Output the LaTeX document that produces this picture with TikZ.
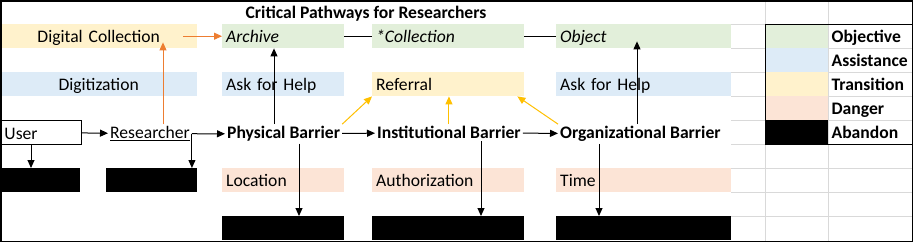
\documentclass[tikz,border=0pt]{standalone}
\usepackage{fontspec}
\setmainfont{Carlito}
\usepackage{xcolor}
\usepackage{tikz}
\usetikzlibrary{shapes,arrows.meta,positioning}

\definecolor{objgreen}{HTML}{E2EFDA}
\definecolor{assistblue}{HTML}{DDEBF7}
\definecolor{transyellow}{HTML}{FFF2CC}
\definecolor{dangerpeach}{HTML}{FCE4D6}
\definecolor{accentorange}{HTML}{ED7D31}
\definecolor{accentgold}{HTML}{FFC000}
\definecolor{gridgray}{HTML}{D9D9D9}

\newcommand{\sheetfont}{\fontsize{17.6}{21}\selectfont}

\begin{document}
\begin{tikzpicture}[
    x=1pt, y=-1pt,
    font=\sheetfont,
    cell/.style={rectangle, anchor=north west, minimum height=24pt, inner xsep=4pt, inner ysep=0pt, text height=15pt, text depth=1.6pt, align=left, font=\sheetfont},
    objective/.style={cell, fill=objgreen},
    assistance/.style={cell, fill=assistblue},
    transition/.style={cell, fill=transyellow},
    danger/.style={cell, fill=dangerpeach},
    abandon/.style={rectangle, anchor=north west, fill=black, minimum height=24pt, inner sep=0pt},
    barrier/.style={anchor=base west, inner sep=2pt, font=\sheetfont\bfseries},
    legend/.style={inner sep=0pt, text height=15pt, text depth=1.6pt, font=\sheetfont\bfseries},
    line/.style={draw, -{Triangle[length=8pt, width=7pt]}, line width=1pt},
    link/.style={draw, line width=1pt},
    orange line/.style={line, accentorange},
    gold line/.style={line, accentgold}
]
    \fill [white] (0,0) rectangle (913,242);
    \useasboundingbox (0,0) rectangle (913,242);

    % Sheet grid (right side)
    \draw [gridgray, line width=1pt] (731,24) -- (913,24) (731,48) -- (913,48) (731,72) -- (913,72)
        (731,96) -- (913,96) (731,120) -- (913,120) (731,144) -- (913,144) (731,168) -- (913,168)
        (731,192) -- (913,192) (731,216) -- (913,216) (765,0) -- (765,242) (828,0) -- (828,242);

    % --- Title ---
    \node [anchor=base, font=\sheetfont\bfseries] (title) at (366,18.7) {Critical Pathways for Researchers};

    % --- Column 0: Entry side ---
    \node [transition, text width=189pt, align=center] (digital) at (0,24) {Digital Collection};
    \node [assistance, text width=189pt, align=center] (digitization) at (0,72) {Digitization};
    \node [cell, draw, line width=1pt, text width=73pt] (user) at (0,120) {User};
    \node [anchor=base west, inner sep=2pt] (researcher) at (108,138.7) {\underline{Researcher}};
    \node [abandon, minimum width=80pt] (abandon_user) at (0,168) {};
    \node [abandon, minimum width=91pt] (abandon_researcher) at (106,168) {};

    % --- Column 1: Physical ---
    \node [objective, text width=114pt] (archive) at (222,24) {\textit{Archive}};
    \node [assistance, text width=114pt] (help_physical) at (222,72) {Ask for Help};
    \node [barrier] (physical) at (225,138.7) {Physical Barrier};
    \node [danger, text width=114pt] (location) at (222,168) {Location};
    \node [abandon, minimum width=122pt] (abandon_physical) at (222,216) {};

    % --- Column 2: Institutional ---
    \node [objective, text width=144pt] (collection) at (372,24) {\textit{*Collection}};
    \node [transition, text width=144pt] (referral) at (372,72) {Referral};
    \node [barrier] (institutional) at (375,138.7) {Institutional Barrier};
    \node [danger, text width=144pt] (authorization) at (372,168) {Authorization};
    \node [abandon, minimum width=152pt] (abandon_institutional) at (372,216) {};

    % --- Column 3: Organizational ---
    \node [objective, text width=167pt] (object) at (556,24) {\textit{Object}};
    \node [assistance, text width=167pt] (help_organizational) at (556,72) {Ask for Help};
    \node [barrier] (organizational) at (558,138.7) {Organizational Barrier};
    \node [danger, text width=167pt] (time) at (556,168) {Time};
    \node [abandon, minimum width=175pt] (abandon_organizational) at (556,216) {};

    % --- Legend ---
    \node [objective, minimum width=63pt] (key_objective) at (765,24) {};
    \node [assistance, minimum width=63pt] (key_assistance) at (765,48) {};
    \node [transition, minimum width=63pt] (key_transition) at (765,72) {};
    \node [danger, minimum width=63pt] (key_danger) at (765,96) {};
    \node [abandon, minimum width=63pt] (key_abandon) at (765,120) {};
    \node [legend, right=3pt of key_objective] (key_objective_text) {Objective};
    \node [legend, right=3pt of key_assistance] (key_assistance_text) {Assistance};
    \node [legend, right=3pt of key_transition] (key_transition_text) {Transition};
    \node [legend, right=3pt of key_danger] (key_danger_text) {Danger};
    \node [legend, right=3pt of key_abandon] (key_abandon_text) {Abandon};
    \draw [line width=1pt] (765,24) rectangle (913,144);

    % Paths
    \path [orange line] ([xshift=-14pt]digital.east) -- (archive.west);
    \path [orange line] ([xshift=55pt]researcher.north west) -- ([xshift=55pt, yshift=6pt]researcher.north west |- digital.south);
    \path [line] ([xshift=49pt]physical.north west) -- ([xshift=49pt]physical.north west |- archive.south);
    \path [link] (archive) -- (collection);
    \path [link] (collection) -- (object);
    \path [line] ([xshift=79pt]organizational.north west) -- ([xshift=79pt, yshift=7pt]organizational.north west |- object.south);
    \path [gold line] (physical.north east) -- (referral.south west);
    \path [gold line] (institutional.north) -- (institutional.north |- referral.south);
    \path [gold line] (organizational.north west) -- ([xshift=-7pt]referral.south east);
    \path [line] (user) -- (researcher);
    \path [line] (researcher) -- (physical);
    \path [line] (physical) -- (institutional);
    \path [line] (institutional) -- (organizational);
    \path [line] ([xshift=31pt]user.south west) -- ([xshift=31pt]user.south west |- abandon_user.north);
    \path [line] (researcher.east) -- (researcher.east |- abandon_researcher.north);
    \path [line] ([xshift=74pt]physical.south west) -- ([xshift=74pt]physical.south west |- abandon_physical.north);
    \path [line] ([xshift=106pt]institutional.south west) -- ([xshift=106pt]institutional.south west |- abandon_institutional.north);
    \path [line] ([xshift=41pt]organizational.south west) -- ([xshift=41pt]organizational.south west |- abandon_organizational.north);

    % Outer frame
    \draw [line width=1.5pt] (0.75,0.75) rectangle (912.25,241.25);

\end{tikzpicture}
\end{document}
